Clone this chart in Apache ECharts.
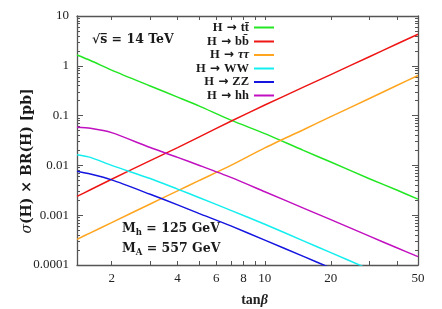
<!DOCTYPE html>
<html><head><meta charset="utf-8">
<script src="https://cdn.jsdelivr.net/npm/echarts@6/dist/echarts.min.js"></script>
<style>html,body{margin:0;padding:0;background:#fff}#c{width:442px;height:309px}</style>
</head><body><div id="c"></div>
<script>
// ---- data ----
const tanBeta = [1.39, 1.6, 2, 3, 4, 5, 7, 10, 15, 20, 30, 40, 50];
const xsTT = [1.65, 1.28, 0.82, 0.393, 0.235, 0.157, 0.081, 0.0435, 0.020, 0.0117, 0.0054, 0.0032, 0.0021];
const xsBB = [0.00238, 0.00324, 0.00526, 0.0125, 0.0228, 0.037, 0.077, 0.163, 0.372, 0.665, 1.52, 2.74, 4.29];
const xsTauTau = [0.000328, 0.000443, 0.00071, 0.00168, 0.00308, 0.00493, 0.0100, 0.0225, 0.0521, 0.0951, 0.2205, 0.402, 0.638];
const xsWW = [0.0164, 0.0145, 0.0100, 0.00546, 0.00334, 0.00227, 0.00125, 0.000659, 0.000305, 0.000177, 0.000082, null, null];
const xsZZ = [0.00762, 0.0067, 0.00512, 0.00263, 0.00161, 0.00109, 0.00061, 0.000316, 0.000149, 0.000087, null, null, null];
const xsHH = [0.0582, 0.0555, 0.0455, 0.0228, 0.0145, 0.0101, 0.00574, 0.00296, 0.00139, 0.000813, 0.00038, 0.000222, 0.000147];
const seriesNames = ['H → tt\u0304', 'H → bb\u0304', 'H → ττ', 'H → WW', 'H → ZZ', 'H → hh'];
const legendFinal = ['tt\u0304', 'bb\u0304', 'ττ', 'WW', 'ZZ', 'hh'];
const xTickValues = [2, 3, 4, 5, 6, 7, 8, 9, 10, 20, 30, 40, 50];
const xLabelValues = [2, 4, 6, 8, 10, 20, 50];
const yMajorValues = [0.0001, 0.001, 0.01, 0.1, 1, 10];
const yLabelText = ['0.0001', '0.001', '0.01', '0.1', '1', '10'];
const yMinorValues = [];
for (let e = -4; e < 1; e++) for (let m = 2; m <= 9; m++) yMinorValues.push(m * Math.pow(10, e));

// ---- styles ----
const colors = ['#22e622', '#ee1515', '#ffa51f', '#15eeee', '#1515e0', '#c010c0'];
const SERIF = '"Liberation Serif", "Times New Roman", serif';
const WIDE = '"DejaVu Serif", serif';
const AX = '#555';
const X_MIN = 1.39, X_MAX = 50, Y_MIN = 0.0001, Y_MAX = 10;

const allValues = [xsTT, xsBB, xsTauTau, xsWW, xsZZ, xsHH];
const series = allValues.map((vals, k) => ({
  type: 'line', name: seriesNames[k],
  xAxisIndex: 0, yAxisIndex: 0,
  data: tanBeta.map((t, i) => vals[i] == null ? null : [t, vals[i]]).filter(Boolean),
  showSymbol: false, smooth: 0.25, clip: true,
  color: colors[k],
  lineStyle: { width: 1.5, color: colors[k] },
  animation: false
}));

function xAxisDef(pos, withLabels) {
  return {
    type: 'log', logBase: 10, min: X_MIN, max: X_MAX, position: pos, gridIndex: 0,
    axisLine: { show: true, lineStyle: { color: AX, width: 1.3 } },
    axisTick: { show: true, inside: true, length: 4, customValues: xTickValues, lineStyle: { color: AX, width: 1 } },
    axisLabel: withLabels ? { show: true, customValues: xLabelValues, margin: 7, fontFamily: SERIF, fontSize: 13, color: '#222' } : { show: false },
    splitLine: { show: false }, minorTick: { show: false },
    name: withLabels ? '{b|tan}{i|β}' : '',
    nameLocation: 'middle', nameGap: 28,
    nameTextStyle: { padding: [0, 0, 0, 14], rich: {
      b: { fontFamily: SERIF, fontWeight: 'bold', fontSize: 14, color: '#222' },
      i: { fontFamily: SERIF, fontWeight: 'bold', fontStyle: 'italic', fontSize: 14, color: '#222' } } }
  };
}
function yAxisDef(pos, ticks, len, withLabels, showLine) {
  return {
    type: 'log', logBase: 10, min: Y_MIN, max: Y_MAX, position: pos, gridIndex: 0,
    axisLine: { show: showLine, lineStyle: { color: AX, width: 1.3 } },
    axisTick: { show: true, inside: true, length: len, customValues: ticks, lineStyle: { color: AX, width: 1 } },
    axisLabel: withLabels ? {
      show: true, customValues: yMajorValues, margin: 8, fontFamily: SERIF, fontSize: 13, color: '#222',
      formatter: v => { const i = yMajorValues.findIndex(m => Math.abs(Math.log10(m) - Math.log10(v)) < 1e-6); return i >= 0 ? yLabelText[i] : ''; }
    } : { show: false },
    splitLine: { show: false }, minorTick: { show: false }
  };
}

const legendTops = [26.5, 40.5, 54, 67.5, 81, 94.5];
const legendText = { fontFamily: SERIF, fontWeight: 'bold', fontSize: 12.5, color: '#1a1a1a',
  rich: {
    b: { fontFamily: SERIF, fontWeight: 'bold', fontSize: 12.5, color: '#1a1a1a' },
    a: { fontFamily: '"DejaVu Sans", sans-serif', fontSize: 12, color: '#1a1a1a', padding: [0, 1, 0, 1] },
    i: { fontFamily: SERIF, fontWeight: 'bold', fontStyle: 'italic', fontSize: 12.5, color: '#1a1a1a' } } };
const legends = seriesNames.map((n, i) => ({
  data: [n], orient: 'vertical', align: 'right', right: 168, top: legendTops[i] - 5.5,
  icon: 'rect', itemWidth: 20, itemHeight: 2, itemGap: 0, padding: 0, selectedMode: false,
  textStyle: legendText,
  formatter: () => '{b|H} {a|→} {' + (i === 2 ? 'i' : 'b') + '|' + legendFinal[i] + '}'
}));

const wideRich = {
  b: { fontFamily: WIDE, fontWeight: 'bold', fontSize: 12.5, fill: '#1a1a1a', color: '#1a1a1a' },
  s: { fontFamily: WIDE, fontWeight: 'bold', fontSize: 8.5, fill: '#1a1a1a', color: '#1a1a1a', padding: [7, 0, 0, 0] },
  i: { fontFamily: WIDE, fontStyle: 'italic', fontSize: 12.5, fill: '#1a1a1a', color: '#1a1a1a' }
};
const titleRich = {
  b: { fontFamily: WIDE, fontWeight: 'bold', fontSize: 14, fill: '#1a1a1a' },
  i: { fontFamily: WIDE, fontStyle: 'italic', fontSize: 14, fill: '#1a1a1a' }
};

const option = {
  animation: false,
  backgroundColor: '#fff',
  grid: { left: 77, right: 24, top: 16, bottom: 44, containLabel: false, outerBoundsMode: 'none' },
  xAxis: [xAxisDef('bottom', true), xAxisDef('top', false)],
  yAxis: [
    yAxisDef('left', yMajorValues, 6, true, true),
    yAxisDef('right', yMajorValues, 6, false, true),
    yAxisDef('left', yMinorValues, 3, false, false),
    yAxisDef('right', yMinorValues, 3, false, false)
  ],
  legend: legends,
  series: series,
  graphic: [
    { type: 'text', x: 92, y: 40, style: { text: '{b|√s\u0305 = 14 TeV}', rich: wideRich, align: 'left', verticalAlign: 'middle' } },
    { type: 'text', x: 122, y: 229, style: { text: '{b|M}{s|h}{b| = 125 GeV}', rich: wideRich, align: 'left', verticalAlign: 'middle' } },
    { type: 'text', x: 122, y: 249, style: { text: '{b|M}{s|A}{b| = 557 GeV}', rich: wideRich, align: 'left', verticalAlign: 'middle' } },
    { type: 'text', x: 27, y: 161, rotation: Math.PI / 2, style: { text: '{i|σ}{b|(H) × BR(H) [pb]}', rich: titleRich, align: 'center', verticalAlign: 'middle' } }
  ]
};
const chart = echarts.init(document.getElementById('c'), null, { renderer: 'canvas' });
chart.setOption(option);
</script></body></html>
